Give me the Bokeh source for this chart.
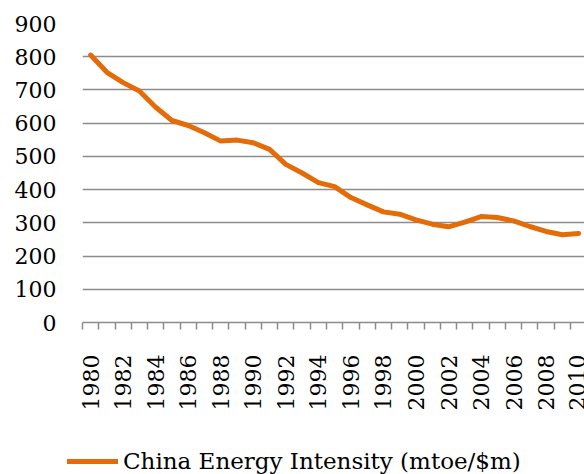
import math
from bokeh.plotting import figure
from bokeh.layouts import column
from bokeh.models import Range1d, FixedTicker, Legend, LegendItem, ColumnDataSource
from bokeh.embed import file_html
from bokeh.resources import INLINE

years = list(range(1980, 2011))
intensity = [805, 753, 722, 697, 648, 608, 593, 571, 546, 549, 541, 521, 476, 450,
             421, 409, 376, 354, 333, 326, 309, 296, 288, 302, 319, 316, 306, 289,
             274, 264, 268]
y_ticks = list(range(0, 1000, 100))
x_label_ticks = list(range(1980, 2011, 2))
x_minor_ticks = [y - 0.5 for y in range(1980, 2012)]
series_name = "China Energy Intensity (mtoe/$m)"

FONT = "DejaVu Serif"
ORANGE = "#E36C09"
GRID = "#8c8c8c"

src = ColumnDataSource(data=dict(year=years, value=intensity))

p = figure(width=584, height=420, output_backend="svg", toolbar_location=None,
           x_range=Range1d(1979.5, 2010.36), y_range=Range1d(0, 900),
           min_border_left=82, min_border_right=0, min_border_top=23,
           min_border_bottom=98)
p.outline_line_color = None
p.background_fill_color = "white"

r = p.line("year", "value", source=src, line_width=5, line_color=ORANGE,
           line_join="round", line_cap="round")

# y axis
p.yaxis.ticker = FixedTicker(ticks=y_ticks)
p.yaxis.axis_line_color = None
p.yaxis.major_tick_line_color = None
p.yaxis.minor_tick_line_color = None
p.yaxis.major_tick_in = 0
p.yaxis.major_tick_out = 0
p.yaxis.major_label_standoff = 26
p.yaxis.major_label_text_font = FONT
p.yaxis.major_label_text_font_size = "22px"
p.yaxis.major_label_text_color = "black"

# x axis
p.xaxis.ticker = FixedTicker(ticks=x_label_ticks, minor_ticks=x_minor_ticks)
p.xaxis.axis_line_color = GRID
p.xaxis.axis_line_width = 1.5
p.xaxis.major_tick_line_color = None
p.xaxis.major_tick_in = 0
p.xaxis.major_tick_out = 0
p.xaxis.minor_tick_line_color = GRID
p.xaxis.minor_tick_line_width = 1.5
p.xaxis.minor_tick_in = 0
p.xaxis.minor_tick_out = 7
p.xaxis.major_label_standoff = 25
p.xaxis.major_label_orientation = math.pi / 2
p.xaxis.major_label_text_font = FONT
p.xaxis.major_label_text_font_size = "22px"
p.xaxis.major_label_text_color = "black"

p.xgrid.grid_line_color = None
p.ygrid.ticker = FixedTicker(ticks=y_ticks)
p.ygrid.grid_line_color = GRID
p.ygrid.grid_line_width = 1.5

# legend strip below the chart (series drawn out of view; only the legend shows)
leg = figure(width=584, height=54, output_backend="svg", toolbar_location=None,
             x_axis_type=None, y_axis_type=None,
             x_range=Range1d(0, 1), y_range=Range1d(0, 1),
             min_border_left=0, min_border_right=0, min_border_top=0,
             min_border_bottom=0)
leg.outline_line_color = None
leg.xgrid.grid_line_color = None
leg.ygrid.grid_line_color = None
swatch = leg.line("year", "value", source=src, line_width=5, line_color=ORANGE,
                  line_cap="round")

legend_x = 67
try:
    leg.frame_align = False
except Exception:
    legend_x = 67 - 82

legend = Legend(items=[LegendItem(label=series_name, renderers=[swatch])],
                location=(legend_x, 0), orientation="horizontal",
                padding=0, margin=0, spacing=0,
                glyph_width=51, glyph_height=22, label_standoff=5,
                label_text_font=FONT, label_text_font_size="23px",
                label_text_color="black",
                background_fill_alpha=0, border_line_color=None)
leg.add_layout(legend, "center")

layout = column(p, leg, spacing=0)
open("out.html", "w").write(file_html(layout, INLINE))
